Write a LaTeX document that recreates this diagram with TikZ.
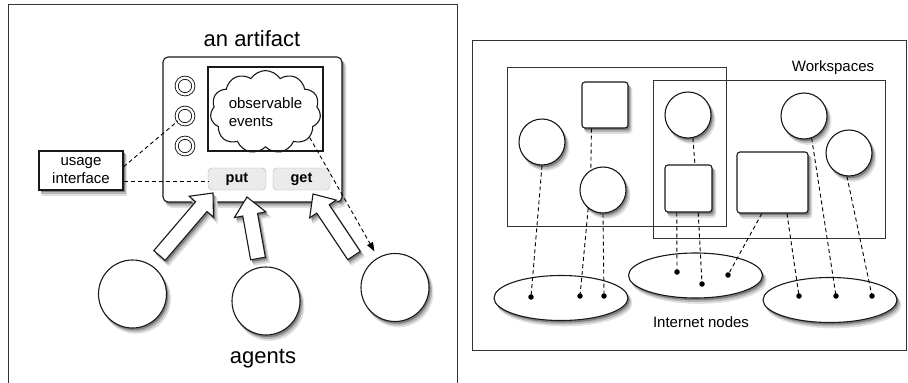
\documentclass[tikz,border=0pt]{standalone}
\usepackage{fontspec}
\setmainfont{Liberation Sans}
\usetikzlibrary{shapes.symbols,shapes.geometric,shadows,arrows.meta,calc}

\tikzset{
  objshadow/.style={
    preaction={fill=black!12, draw=black!12, line width=1.6pt, transform canvas={shift={(3.6pt,-5pt)}}},
    preaction={fill=black!28, draw=black!28, line width=0.8pt, transform canvas={shift={(2.6pt,-3.6pt)}}},
    preaction={fill=black!50, transform canvas={shift={(1.6pt,-2.2pt)}}}},
  objbox/.style={objshadow, draw=black!90, line width=1.1pt, fill=white},
  panel/.style={draw=black!80, line width=0.9pt},
  wsbox/.style={draw=black!80, line width=0.9pt, inner sep=0pt},
  circ/.style={objbox, circle, minimum size=46pt, inner sep=0pt},
  agent/.style={objbox, circle, minimum size=68pt, inner sep=0pt},
  sqbox/.style={objbox, rounded corners=3pt, inner sep=0pt},
  ell/.style={objbox, ellipse, minimum width=134pt, minimum height=45pt, inner sep=0pt},
  dotn/.style={circle, fill=black, inner sep=0pt, minimum size=5.5pt},
  dsh/.style={line width=0.9pt, dash pattern=on 4pt off 3pt},
  lbl/.style={font=\fontsize{15}{18}\selectfont},
  biglbl/.style={font=\fontsize{22}{26}\selectfont},
  knob/.style={circle, draw=black!90, line width=0.9pt, double, double distance=2.2pt, minimum size=16.6pt, inner sep=0pt},
  btn/.style={draw=black!30, fill=black!8, rounded corners=4pt, minimum width=58pt, minimum height=22pt, inner sep=0pt, font=\fontsize{14.5}{17}\selectfont\bfseries},
  barrow/.style={objshadow, draw=black!90, line width=1.1pt, fill=white, line join=miter},
}

\newcommand\blkarrow[3]{%
  \coordinate (#3) at ($(#2)!18pt!(#1)$);
  \draw[barrow] ($(#1)!7.5pt!90:(#2)$) -- ($(#3)!7.5pt!-90:(#1)$) -- ($(#3)!16pt!-90:(#1)$)
     -- (#2) -- ($(#3)!16pt!90:(#1)$) -- ($(#3)!7.5pt!90:(#1)$) -- ($(#1)!7.5pt!-90:(#2)$) -- cycle;}

\begin{document}
\begin{tikzpicture}[x=1pt,y=-1pt]
\useasboundingbox (0,0) rectangle (908,383);
\fill[white] (0,0) rectangle (908,383);

% ---------------- left panel ----------------
\draw[panel] (8,4) -- (8,383) (457,383) -- (457,4) -- (8,4);
\node[biglbl, anchor=base] (title) at (252,46.5) {an artifact};

\node[objbox, rounded corners=5pt, minimum width=179pt, minimum height=145pt, inner sep=0pt] (art) at (252.5,129.5) {};
\node[draw=black!90, line width=1.1pt, minimum width=115pt, minimum height=84pt, inner sep=0pt] (scr) at (265.5,109) {};
\node[cloud, draw=black!90, line width=1.1pt, cloud puffs=11, cloud puff arc=115, aspect=1.49,
      minimum width=107pt, minimum height=72pt, inner sep=0pt, align=left, lbl] (cloud) at (265.5,112) {observable\\events};

\node[knob] (k1) at (185,86) {};
\node[knob] (k2) at (185,116) {};
\node[knob] (k3) at (185,146) {};

\node[btn] (put) at (237,179) {put};
\node[btn, minimum width=57pt] (get) at (301.5,179) {get};

\node[objbox, minimum width=84pt, minimum height=39pt, inner sep=0pt, align=center, lbl] (ui) at (81,170.5) {usage\\interface};

\draw[dsh] (ui.5) -- (k2.215);
\draw[dsh] (ui.-15) -- (ui.-15 -| put.west);

\node[agent] (ag1) at (132.5,294) {};
\node[agent] (ag2) at (266,301) {};
\node[agent] (ag3) at (395,287.5) {};

\coordinate (t1) at (159.5,255.5); \coordinate (p1) at (213,193);
\coordinate (t2) at (258,258.5);   \coordinate (p2) at (247,197);
\coordinate (t3) at (354,255.5);   \coordinate (p3) at (313,194);
\blkarrow{t1}{p1}{b1}
\blkarrow{t2}{p2}{b2}
\blkarrow{t3}{p3}{b3}

\draw[dsh, -{Triangle[length=9pt,width=6.5pt]}, shorten >=7pt] (cloud.-30) -- (ag3);

\node[biglbl, anchor=base] (agl) at (263,363) {agents};

% ---------------- right panel ----------------
\draw[panel] (472,40) rectangle (906.5,350);
\node[wsbox, minimum width=219pt, minimum height=159pt] (ws1) at (616.5,146.5) {};
\node[wsbox, minimum width=232pt, minimum height=158pt] (ws2) at (769,159) {};
\node[lbl, anchor=base] (wsl) at (833,71.5) {Workspaces};

\node[circ] (A) at (542,142) {};
\node[sqbox, minimum width=46pt, minimum height=46pt] (B) at (605,105) {};
\node[circ] (C) at (603,190) {};
\node[circ] (D) at (688,115) {};
\node[sqbox, minimum width=47pt, minimum height=47pt] (E) at (688.5,188.5) {};
\node[sqbox, minimum width=71pt, minimum height=61pt] (F) at (772.5,182.5) {};
\node[circ] (G) at (804,116) {};
\node[circ] (H) at (849,153) {};

\node[ell] (e1) at (561,298) {};
\node[ell] (e2) at (695.5,275.5) {};
\node[ell] (e3) at (830,300) {};

\node[dotn] (a1) at (531,297) {};
\node[dotn] (a2) at (580,296) {};
\node[dotn] (a3) at (604,296) {};
\node[dotn] (n1) at (677,272) {};
\node[dotn] (n2) at (702,284) {};
\node[dotn] (n3) at (728,275) {};
\node[dotn] (c1) at (799,296) {};
\node[dotn] (c2) at (836,296) {};
\node[dotn] (c3) at (872,296) {};

\draw[dsh] (A.south) -- (a1.center);
\draw[dsh] (B.240) -- (C.121);
\draw[dsh] (C.231) -- (a2.center);
\draw[dsh] (C.south) -- (a3.center);
\draw[dsh] (D.282) -- (E.75);
\draw[dsh] (E.244) -- (n1.center);
\draw[dsh] (E.292) -- (n2.center);
\draw[dsh] (F.251) -- (n3.center);
\draw[dsh] (F.295) -- (c1.center);
\draw[dsh] (G.289) -- (c2.center);
\draw[dsh] (H.265) -- (c3.center);

\node[lbl, anchor=base] (inl) at (701,327) {Internet nodes};
\end{tikzpicture}
\end{document}
